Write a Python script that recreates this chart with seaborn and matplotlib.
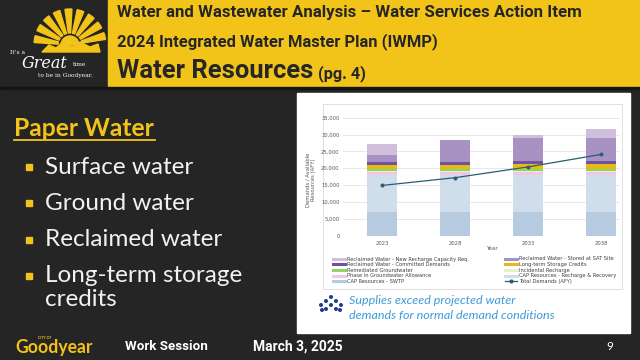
import matplotlib
matplotlib.use("Agg")
import matplotlib.pyplot as plt
import seaborn as sns
import pandas as pd
from matplotlib.patches import Rectangle, Wedge, Polygon, Circle
from matplotlib.lines import Line2D

# ---------------- data ----------------
years = ["2023", "2028", "2033", "2038"]
cap_swtp = [7100, 7100, 7100, 7100]
cap_rr = [10900, 10900, 10900, 10900]
phase_in_gw = [800, 800, 800, 800]
incidental = [500, 500, 500, 500]
remediated = [400, 400, 400, 400]
ltsc = [1300, 1300, 1500, 1500]
committed = [1000, 1000, 1000, 1050]
stored_sat = [1900, 6400, 6700, 6650]
new_recharge = [3400, 0, 900, 2600]
total_demands = [14900, 17200, 20400, 24100]

series_names = [
    "CAP Resources - SWTP",
    "CAP Resources - Recharge & Recovery",
    "Phase In Groundwater Allowance",
    "Incidental Recharge",
    "Remediated Groundwater",
    "Long-term Storage Credits",
    "Reclaimed Water - Committed Demands",
    "Reclaimed Water - Stored at SAT Site",
    "Reclaimed Water - New Recharge Capacity Req.",
]
series_values = [cap_swtp, cap_rr, phase_in_gw, incidental, remediated,
                 ltsc, committed, stored_sat, new_recharge]
series_colors = ["#B6CAE0", "#D0DDEA", "#F1C8E4", "#E4F3C6", "#8ED46A",
                 "#E6BC14", "#6F52A0", "#A892C4", "#CFBEDC"]
total_label = "Total Demands (AFY)"
line_color = "#2B5C72"

ytick_values = [0, 5000, 10000, 15000, 20000, 25000, 30000, 35000]

# ---------------- figure ----------------
fig = plt.figure(figsize=(6.4, 3.6), dpi=100)
fig.patch.set_facecolor("#252525")

bg = fig.add_axes([0, 0, 1, 1], zorder=0)
bg.set_xlim(0, 640)
bg.set_ylim(360, 0)
bg.axis("off")
renderer = fig.canvas.get_renderer()


def fit_text(x, y, s, width, **kw):
    t = bg.text(x, y, s, **kw)
    w = t.get_window_extent(renderer=renderer).width
    t.set_fontsize(t.get_fontsize() * width / w)
    return t


YEL = "#F2C318"
# header
bg.add_patch(Rectangle((108, 0), 532, 87, color=YEL, zorder=1))
bg.add_patch(Rectangle((0, 87), 640, 2, color="#151515", zorder=1))
hdr = dict(family="Roboto", weight="bold", color="#262626", va="center",
           ha="left", fontsize=10, zorder=3)
fit_text(117, 13, "Water and Wastewater Analysis \u2013 Water Services Action Item", 466, **hdr)
fit_text(117, 42, "2024 Integrated Water Master Plan (IWMP)", 320, **hdr)
fit_text(117, 78, "Water Resources", 195, **dict(hdr, va="baseline"))
fit_text(318, 78, "(pg. 4)", 48, **dict(hdr, va="baseline"))

# logo
cx, cy = 70, 45
for i in range(9):
    a0 = 184 + i * 19.5
    bg.add_patch(Wedge((cx, cy), 36, a0, a0 + 11, width=24, color=YEL, zorder=2))
bg.add_patch(Wedge((cx, cy), 9, 180, 360, color=YEL, zorder=2))
bg.add_patch(Polygon([[42, 52], [49, 45], [56, 48], [64, 41], [72, 47], [80, 42],
                      [90, 47], [98, 44], [100, 52]], closed=True, color=YEL, zorder=2))
bg.text(10, 53, "It's a", family="DejaVu Serif", color="white", fontsize=4.3, va="center")
bg.text(22, 64, "Great", family="DejaVu Serif", style="italic", color="white",
        fontsize=11.5, va="center")
bg.text(73, 65, "time", family="DejaVu Serif", color="white", fontsize=4.3, va="center")
bg.text(38, 75, "to be in Goodyear.", family="DejaVu Serif", color="white",
        fontsize=4.3, va="center")

# left content
fit_text(14, 128, "Paper Water", 141, family="Lato", weight="bold", color=YEL,
         va="center", fontsize=14)
bg.plot([14, 155], [140, 140], color=YEL, lw=1.3)
items = [("Surface water", 167), ("Ground water", 203), ("Reclaimed water", 240),
         ("Long-term storage", 276), ("credits", 300)]
ref = fit_text(45, -50, "Reclaimed water", 177, family="Lato", color="white",
               va="center", fontsize=12)
fs_items = ref.get_fontsize()
ref.remove()
for s, y in items:
    bg.text(45, y, s, family="Lato", color="#F2F2F2", va="center", fontsize=fs_items)
for y in [167, 203, 240, 276]:
    bg.add_patch(Rectangle((26, y - 3), 5.5, 5.5, color=YEL))

# footer
fit_text(15, 348, "Goodyear", 77, family="Lato", weight="bold", color=YEL, va="center",
         fontsize=11)
bg.text(38, 338, "CITY OF", family="Lato", weight="bold", color=YEL, fontsize=2.6,
        va="center")
fit_text(125, 347, "Work Session", 82, family="Roboto", weight="bold", color="white",
         va="center", fontsize=9)
fit_text(253, 347, "March 3, 2025", 90, family="Roboto", weight="bold", color="white",
         va="center", fontsize=9)
bg.text(606, 347, "9", family="Lato", color="white", va="center", fontsize=8.5)

# chart panel
bg.add_patch(Rectangle((297, 93), 333, 240, color="white", zorder=1))
fc = "#D9D9D9"
bg.plot([323, 622, 622, 323, 323], [104, 104, 289, 289, 104], color=fc, lw=0.6, zorder=2)

# supplies note
note = dict(family="Lato", style="italic", color="#3D9BD8", va="center", fontsize=8,
            zorder=3)
n2 = fit_text(349, 316, "demands for normal demand conditions", 205, **note)
bg.text(349, 301, "Supplies exceed projected water", **dict(note, fontsize=n2.get_fontsize()))
dots = [(331, 297), (326, 301), (336, 301), (321, 305), (331, 305), (341, 305),
        (326, 309), (336, 309), (322, 310), (340, 310)]
for (dx, dy) in dots:
    bg.add_patch(Circle((dx, dy), 1.3, color="#1F3E8C", zorder=3))

# ---------------- chart ----------------
ax = fig.add_axes([343 / 640, 1 - 235.7 / 360, 277 / 640, (235.7 - 114.3) / 360], zorder=2)
ax.patch.set_alpha(0)

df = pd.DataFrame({n: v for n, v in zip(series_names, series_values)}, index=years)
cum = df.cumsum(axis=1)

for name, color in reversed(list(zip(series_names, series_colors))):
    sns.barplot(x=years, y=cum[name].values, order=years, color=color, width=0.4,
                saturation=1, errorbar=None, linewidth=0, ax=ax)

sns.pointplot(x=years, y=total_demands, order=years, color=line_color, markers="o",
              markersize=2.2, linewidth=0.9, errorbar=None, ax=ax)

ax.set_xlim(-0.534, 3.26)
ax.set_ylim(0, 36000)
ax.set_yticks(ytick_values)
ax.set_yticklabels([f"{v:,}" for v in ytick_values])
ax.set_axisbelow(True)
ax.yaxis.grid(True, color="#E4E4E4", lw=0.6)
ax.xaxis.grid(False)
for s in ax.spines.values():
    s.set_visible(False)
ax.tick_params(axis="both", length=0, labelsize=3.8, labelcolor="#595959")
ax.tick_params(axis="y", pad=2.5)
ax.tick_params(axis="x", pad=3.5)
ax.set_xlabel("Year", fontsize=4, color="#595959")
ax.xaxis.set_label_coords(0.538, -0.107)
ax.xaxis.label.set_va("center")
ax.set_ylabel("Demands / Available\nResources (AFY)", fontsize=3.8, color="#595959",
              linespacing=1.3)
ax.yaxis.set_label_coords(-0.116, 0.46)
ax.yaxis.label.set_va("center")

# legend (row-major order in two columns)
handles = {n: Line2D([], [], color=c, lw=2.2) for n, c in zip(series_names, series_colors)}
handles[total_label] = Line2D([], [], color=line_color, lw=0.9, marker="o", markersize=2)
rows = list(reversed(series_names)) + [total_label]
order = rows[0::2] + rows[1::2]
leg = ax.legend([handles[n] for n in order], order, ncol=2, loc="upper left",
                bbox_to_anchor=(333 / 640, 1 - 256.5 / 360), bbox_transform=fig.transFigure,
                frameon=False, fontsize=3.7, labelspacing=0.12, handlelength=2.3,
                handletextpad=0.4, columnspacing=7.0, borderpad=0, borderaxespad=0)
for t in leg.get_texts():
    t.set_color("#404040")

fig.savefig("out.png", dpi=100, facecolor=fig.get_facecolor())
